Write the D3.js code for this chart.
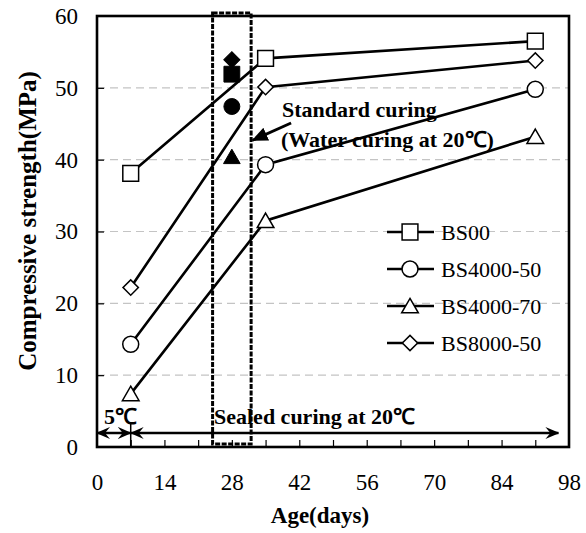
<!DOCTYPE html>
<html>
<head>
<meta charset="utf-8">
<script src="https://cdn.jsdelivr.net/npm/d3@7"></script>
<style>
  html, body { margin: 0; padding: 0; background: #fff; }
  svg { display: block; }
  text { font-family: "Liberation Serif", "Times New Roman", serif; fill: #000; }
</style>
</head>
<body>
<svg id="chart" width="586" height="533"></svg>
<script>
// Curing ages (days) for the sealed-curing series
const ages = [7, 35, 91];

// Series names and symbols
const seriesNames = ["BS00", "BS4000-50", "BS4000-70", "BS8000-50"];
const seriesSymbols = ["square", "circle", "triangle", "diamond"];

// Compressive strength (MPa), sealed curing
const bs00 = [38.1, 54.1, 56.5];
const bs4000_50 = [14.3, 39.3, 49.8];
const bs4000_70 = [7.4, 31.5, 43.2];
const bs8000_50 = [22.2, 50.1, 53.8];

// Standard (water) curing, 28 days
const stdAge = 28;
const stdValues = [51.9, 47.4, 40.4, 53.9];

// Axis ticks
const xTickLabels = [0, 14, 28, 42, 56, 70, 84, 98];
const xMinorTicks = [7, 14, 21, 28, 35, 42, 49, 56, 63, 70, 77, 84, 91];
const yTickLabels = [0, 10, 20, 30, 40, 50, 60];
const yGrid = [10, 20, 30, 40, 50];

const seriesValues = [bs00, bs4000_50, bs4000_70, bs8000_50];

const svg = d3.select("#chart");
const L = 97, R = 569, T = 16, B = 447;
const x = d3.scaleLinear().domain([0, 98]).range([L, R]);
const y = d3.scaleLinear().domain([0, 60]).range([B, T]);

function symbolPath(kind) {
  if (kind === "square") return d3.symbol(d3.symbolSquare, 250)();
  if (kind === "circle") return d3.symbol(d3.symbolCircle, 200)();
  if (kind === "triangle") return d3.symbol(d3.symbolTriangle, 120)();
  return d3.symbol(d3.symbolSquare, 118)();
}
function symbolRotate(kind) { return kind === "diamond" ? " rotate(45)" : ""; }
function symbolShift(kind) { return kind === "triangle" ? 2 : 0; }

// Gridlines
svg.append("g").selectAll("line").data(yGrid).join("line")
  .attr("x1", L).attr("x2", R)
  .attr("y1", d => y(d)).attr("y2", d => y(d))
  .attr("stroke", "#c4c4c4").attr("stroke-width", 1.2)
  .attr("stroke-dasharray", "8,5");

// Inner ticks
svg.append("g").attr("transform", `translate(0,${B})`)
  .call(d3.axisBottom(x).tickValues(xMinorTicks).tickSize(-7).tickFormat(""))
  .call(g => g.select(".domain").remove())
  .call(g => g.selectAll("line").attr("stroke", "#000").attr("stroke-width", 1.2));
svg.append("g").attr("transform", `translate(${L},0)`)
  .call(d3.axisLeft(y).tickValues(yGrid).tickSize(-7).tickFormat(""))
  .call(g => g.select(".domain").remove())
  .call(g => g.selectAll("line").attr("stroke", "#000").attr("stroke-width", 1.2));

// Tick labels
svg.append("g").attr("transform", `translate(0,${B})`)
  .call(d3.axisBottom(x).tickValues(xTickLabels).tickSize(0).tickPadding(27))
  .call(g => g.select(".domain").remove())
  .call(g => g.selectAll("text").attr("font-size", 23).attr("font-family", "Liberation Serif").attr("fill", "#000"));
svg.append("g").attr("transform", `translate(${L},0)`)
  .call(d3.axisLeft(y).tickValues(yTickLabels).tickSize(0).tickPadding(19))
  .call(g => g.select(".domain").remove())
  .call(g => g.selectAll("text").attr("font-size", 23).attr("font-family", "Liberation Serif").attr("fill", "#000"));

// Dashed box around the 28-day standard curing results
svg.append("rect")
  .attr("x", x(24)).attr("y", T - 3)
  .attr("width", x(32) - x(24)).attr("height", B - T)
  .attr("fill", "none").attr("stroke", "#000").attr("stroke-width", 3)
  .attr("stroke-dasharray", "5,1.5");

// Series lines
const line = d3.line().x((d, i) => x(ages[i])).y(d => y(d));
svg.append("g").selectAll("path").data(seriesValues).join("path")
  .attr("d", d => line(d))
  .attr("fill", "none").attr("stroke", "#000").attr("stroke-width", 2.6);

// Series markers
seriesValues.forEach((vals, si) => {
  const kind = seriesSymbols[si];
  svg.append("g").selectAll("path").data(vals).join("path")
    .attr("transform", (d, i) => `translate(${x(ages[i])},${y(d) + symbolShift(kind)})${symbolRotate(kind)}`)
    .attr("d", symbolPath(kind))
    .attr("fill", "#fff").attr("stroke", "#000").attr("stroke-width", 1.5);
});

// Standard curing (filled) markers at 28 days
svg.append("g").selectAll("path").data(stdValues).join("path")
  .attr("transform", (d, i) => `translate(${x(stdAge)},${y(d) + symbolShift(seriesSymbols[i])})${symbolRotate(seriesSymbols[i])}`)
  .attr("d", (d, i) => seriesSymbols[i] === "diamond" ? d3.symbol(d3.symbolSquare, 130)() : symbolPath(seriesSymbols[i]))
  .attr("fill", "#000").attr("stroke", "#000").attr("stroke-width", 1);

// Frame
svg.append("rect")
  .attr("x", L).attr("y", T).attr("width", R - L).attr("height", B - T)
  .attr("fill", "none").attr("stroke", "#000").attr("stroke-width", 2.6);

// Arrowheads
const defs = svg.append("defs");
defs.append("marker").attr("id", "head").attr("viewBox", "0 0 14 12")
  .attr("refX", 13).attr("refY", 6).attr("markerWidth", 14).attr("markerHeight", 12)
  .attr("markerUnits", "userSpaceOnUse").attr("orient", "auto-start-reverse")
  .append("path").attr("d", "M0,0 L14,6 L0,12 L5,6 Z").attr("fill", "#000");
defs.append("marker").attr("id", "bighead").attr("viewBox", "0 0 16 14")
  .attr("refX", 15).attr("refY", 7).attr("markerWidth", 16).attr("markerHeight", 14)
  .attr("markerUnits", "userSpaceOnUse").attr("orient", "auto")
  .append("path").attr("d", "M0,0 L16,7 L0,14 Z").attr("fill", "#000");

// Standard curing annotation
svg.append("line")
  .attr("x1", x(40.3)).attr("y1", y(45.1))
  .attr("x2", x(32.3)).attr("y2", y(42.7))
  .attr("stroke", "#000").attr("stroke-width", 2.8)
  .attr("marker-end", "url(#bighead)");
svg.append("text").attr("x", 282).attr("y", 117)
  .attr("font-size", 22).attr("font-weight", "bold").text("Standard curing");
svg.append("text").attr("x", 281).attr("y", 147)
  .attr("font-size", 22).attr("font-weight", "bold").text("(Water curing at 20℃)");

// Curing temperature periods along the bottom
const arrowY = 433;
svg.append("line").attr("x1", x(0)).attr("x2", x(7)).attr("y1", arrowY).attr("y2", arrowY)
  .attr("stroke", "#000").attr("stroke-width", 2.6)
  .attr("marker-start", "url(#head)").attr("marker-end", "url(#head)");
svg.append("line").attr("x1", x(7)).attr("x2", x(95.8)).attr("y1", arrowY).attr("y2", arrowY)
  .attr("stroke", "#000").attr("stroke-width", 2.6)
  .attr("marker-start", "url(#head)").attr("marker-end", "url(#head)");
svg.append("line").attr("x1", x(7)).attr("x2", x(7)).attr("y1", 422).attr("y2", B)
  .attr("stroke", "#000").attr("stroke-width", 1.5);
svg.append("text").attr("x", 104).attr("y", 424)
  .attr("font-size", 22).attr("font-weight", "bold").text("5℃");
svg.append("text").attr("x", 214).attr("y", 424)
  .attr("font-size", 22).attr("font-weight", "bold").text("Sealed curing at 20℃");

// Legend
const legend = svg.append("g");
seriesNames.forEach((name, i) => {
  const ly = 232 + i * 37;
  const kind = seriesSymbols[i];
  legend.append("line").attr("x1", 387).attr("x2", 434).attr("y1", ly).attr("y2", ly)
    .attr("stroke", "#000").attr("stroke-width", 2.6);
  legend.append("path")
    .attr("transform", `translate(410,${ly + symbolShift(kind)})${symbolRotate(kind)}`)
    .attr("d", symbolPath(kind))
    .attr("fill", "#fff").attr("stroke", "#000").attr("stroke-width", 1.5);
  legend.append("text").attr("x", 441).attr("y", ly).attr("dy", "0.35em")
    .attr("font-size", 22).text(name);
});

// Axis titles
svg.append("text").attr("x", 320).attr("y", 523).attr("text-anchor", "middle")
  .attr("font-size", 23).attr("font-weight", "bold").text("Age(days)");
svg.append("text").attr("transform", "translate(36,221) rotate(-90)").attr("text-anchor", "middle")
  .attr("font-size", 25).attr("font-weight", "bold").text("Compressive strength(MPa)");
</script>
</body>
</html>
